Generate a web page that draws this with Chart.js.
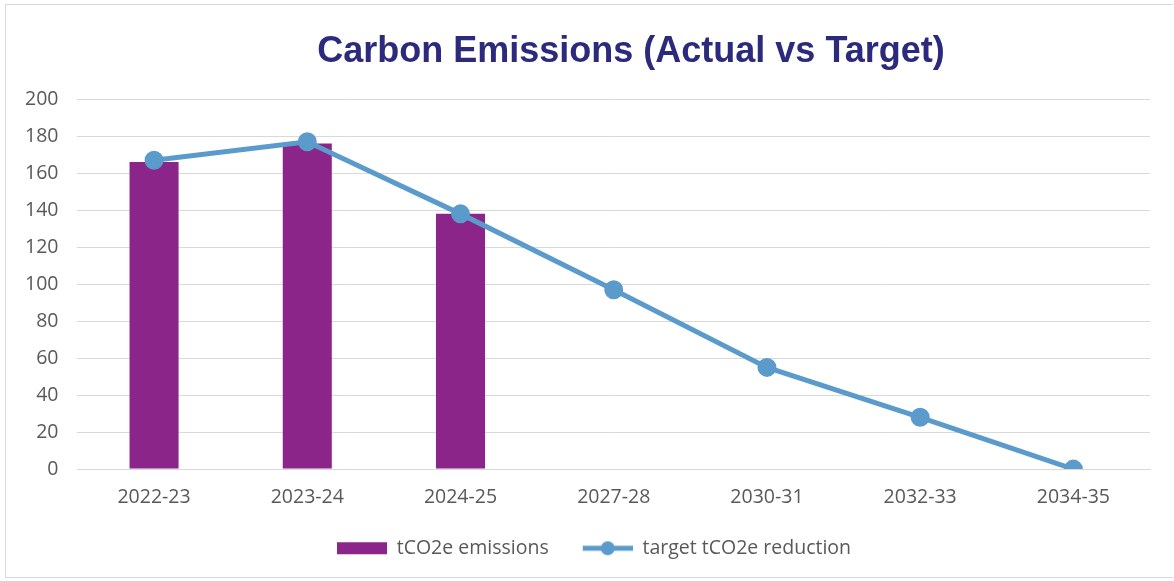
<!DOCTYPE html>
<html>
<head>
<meta charset="utf-8">
<script src="https://cdn.jsdelivr.net/npm/chart.js@4"></script>
<style>
  html, body { margin: 0; padding: 0; background: #fff; }
  #frame {
    position: absolute; left: 5px; top: 4px; width: 1168px; height: 574px;
    border: 1px solid #d9d9d9; border-right: none; box-sizing: border-box;
  }
  #wrap { position: absolute; left: 0; top: 0; width: 1174px; height: 581px; }
</style>
</head>
<body>
<div id="frame"></div>
<div id="wrap"><canvas id="carbonChart"></canvas></div>
<script>
// Chart data
const years = ["2022-23", "2023-24", "2024-25", "2027-28", "2030-31", "2032-33", "2034-35"];
const actualEmissions = [166, 176, 138, null, null, null, null];
const targetReduction = [167, 177, 138, 97, 55, 28, 0];
const yTicks = [0, 20, 40, 60, 80, 100, 120, 140, 160, 180, 200];

const barColor = "#8b2589";
const lineColor = "#5b9bcb";
const tickFont = { family: "'Open Sans', sans-serif", size: 19.5 };

// legend swatches: plain bar block, and line with a dot (14px blank on the left as spacing)
function swatch(drawFn) {
  const c = document.createElement("canvas");
  c.width = 64;
  c.height = 16;
  drawFn(c.getContext("2d"));
  return c;
}
const barSwatch = swatch((ctx) => {
  ctx.fillStyle = barColor;
  ctx.fillRect(14, 2, 50, 12);
});
const lineSwatch = swatch((ctx) => {
  ctx.strokeStyle = lineColor;
  ctx.lineWidth = 5;
  ctx.beginPath();
  ctx.moveTo(14, 8);
  ctx.lineTo(64, 8);
  ctx.stroke();
  ctx.fillStyle = lineColor;
  ctx.beginPath();
  ctx.arc(39, 8, 7, 0, Math.PI * 2);
  ctx.fill();
});

// nudge title and legend to the right, like the original
const boxShift = {
  id: "boxShift",
  afterLayout(chart) {
    if (chart.titleBlock) {
      chart.titleBlock.left += 53;
      chart.titleBlock.right += 53;
    }
    if (chart.legend) {
      chart.legend.left += 9;
      chart.legend.right += 9;
    }
  },
};

const carbonChart = new Chart(document.getElementById("carbonChart"), {
  data: {
    labels: years,
    datasets: [
      {
        type: "line",
        label: "target tCO2e reduction",
        data: targetReduction,
        borderColor: lineColor,
        backgroundColor: lineColor,
        borderWidth: 5,
        pointRadius: 7,
        pointHoverRadius: 7,
        tension: 0,
        order: 1,
      },
      {
        type: "bar",
        label: "tCO2e emissions",
        data: actualEmissions,
        backgroundColor: barColor,
        categoryPercentage: 1,
        barPercentage: 0.32,
        order: 2,
      },
    ],
  },
  plugins: [boxShift],
  options: {
    responsive: true,
    maintainAspectRatio: false,
    animation: false,
    layout: { padding: { left: 6, right: 24, top: 22, bottom: 13 } },
    plugins: {
      title: {
        display: true,
        text: "Carbon Emissions (Actual vs Target)",
        color: "#2b2a7c",
        font: { family: "'Liberation Sans', Arial, sans-serif", size: 36, weight: "bold" },
        padding: { top: 8, bottom: 26 },
      },
      legend: {
        position: "bottom",
        reverse: true,
        labels: {
          color: "#595959",
          font: tickFont,
          usePointStyle: true,
          pointStyleWidth: 64,
          boxHeight: 16,
          padding: 20,
          generateLabels(chart) {
            const items = Chart.defaults.plugins.legend.labels.generateLabels(chart);
            items.forEach((item) => {
              item.pointStyle = item.datasetIndex === 0 ? lineSwatch : barSwatch;
            });
            return items;
          },
        },
      },
      tooltip: { enabled: false },
    },
    scales: {
      x: {
        grid: { display: false },
        border: { color: "#d9d9d9" },
        ticks: { color: "#595959", font: tickFont, padding: 9 },
      },
      y: {
        min: 0,
        max: 200,
        afterBuildTicks: (axis) => { axis.ticks = yTicks.map((v) => ({ value: v })); },
        grid: { color: "#d9d9d9", drawTicks: false },
        border: { display: false },
        ticks: { color: "#595959", font: tickFont, padding: 19 },
      },
    },
  },
});
</script>
</body>
</html>
